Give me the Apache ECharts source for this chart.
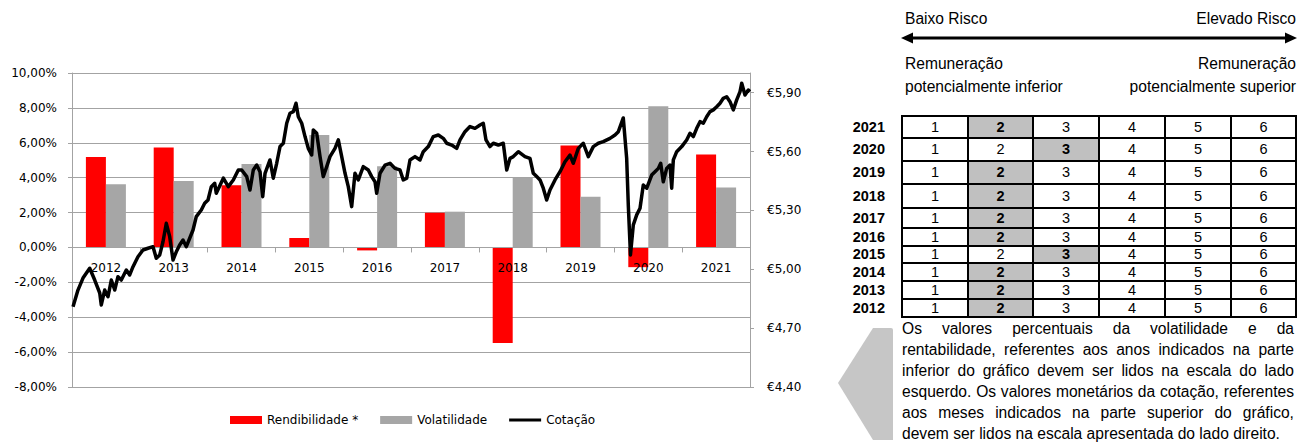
<!DOCTYPE html>
<html><head><meta charset="utf-8">
<script src="https://cdn.jsdelivr.net/npm/echarts@6/dist/echarts.min.js"></script>
<style>
html,body{margin:0;padding:0;background:#fff;width:1299px;height:442px;overflow:hidden;}
#chart{position:absolute;left:0;top:0;width:830px;height:442px;}
#panel{position:absolute;left:0;top:0;width:1299px;height:442px;font-family:'Liberation Sans',Arial,sans-serif;color:#000;pointer-events:none;}
.t{position:absolute;font-size:15.6px;line-height:18px;white-space:nowrap;}
.cell{position:absolute;box-sizing:border-box;border:2px solid #000;text-align:center;font-size:14.5px;}
.yr{position:absolute;font-weight:bold;font-size:14.5px;text-align:right;width:60px;}
.pl{position:absolute;left:902px;width:392px;font-size:15.6px;line-height:21px;height:21px;white-space:nowrap;display:flex;justify-content:space-between;}
.pl.last{display:block;}
</style></head>
<body>
<div id="chart"></div>
<div id="panel">
  <svg width="1299" height="442" style="position:absolute;left:0;top:0">
    <line x1="908" y1="38" x2="1290" y2="38" stroke="#000" stroke-width="3"/>
    <polygon points="901,38 913,32.5 913,43.5" fill="#000"/>
    <polygon points="1297,38 1285,32.5 1285,43.5" fill="#000"/>
    <path d="M893,330 Q893,328 891,328 L873,328 L838,383 L873,440 L893,440 Z" fill="#c6c6c6"/>
  </svg>
  <div class="t" style="left:905px;top:10px">Baixo Risco</div>
  <div class="t" style="right:3px;top:10px">Elevado Risco</div>
  <div class="t" style="left:905px;top:55px">Remuneração</div>
  <div class="t" style="left:905px;top:78px">potencialmente inferior</div>
  <div class="t" style="right:3px;top:55px">Remuneração</div>
  <div class="t" style="right:3px;top:78px">potencialmente superior</div>
  <div id="table"></div>
  <div id="para"></div>
</div>
<script>
// ---- Chart data ----
const years = ['2012','2013','2014','2015','2016','2017','2018','2019','2020','2021'];
const rendibilidade = [5.19, 5.73, 3.56, 0.54, -0.17, 1.99, -5.48, 5.84, -1.13, 5.33];
const volatilidade = [3.62, 3.81, 4.79, 6.44, 4.66, 2.05, 3.98, 2.91, 8.09, 3.43];
const priceTicks = [4.4, 4.7, 5.0, 5.3, 5.6, 5.9];
// Cotação: [decimal year, price in €]
const cotacao = [[2012.015,4.809],[2012.088,4.894],[2012.162,4.955],[2012.261,5.005],[2012.335,4.945],[2012.409,4.879],[2012.432,4.818],[2012.482,4.894],[2012.531,4.860],[2012.580,4.945],[2012.630,4.894],[2012.678,4.962],[2012.727,4.945],[2012.801,4.996],[2012.851,4.971],[2012.900,5.013],[2012.973,5.064],[2013.047,5.098],[2013.121,5.107],[2013.195,5.115],[2013.243,5.056],[2013.294,5.073],[2013.342,5.140],[2013.391,5.234],[2013.441,5.166],[2013.490,5.047],[2013.538,5.089],[2013.588,5.124],[2013.637,5.149],[2013.686,5.115],[2013.736,5.158],[2013.785,5.200],[2013.833,5.268],[2013.907,5.302],[2013.957,5.336],[2014.006,5.353],[2014.055,5.421],[2014.105,5.438],[2014.128,5.387],[2014.232,5.464],[2014.305,5.421],[2014.379,5.455],[2014.453,5.506],[2014.503,5.506],[2014.577,5.472],[2014.625,5.404],[2014.674,5.506],[2014.724,5.531],[2014.773,5.497],[2014.813,5.370],[2014.847,5.489],[2014.920,5.557],[2014.969,5.464],[2015.019,5.540],[2015.068,5.625],[2015.117,5.642],[2015.167,5.744],[2015.215,5.795],[2015.264,5.803],[2015.304,5.846],[2015.338,5.777],[2015.388,5.744],[2015.437,5.676],[2015.485,5.616],[2015.535,5.582],[2015.559,5.710],[2015.609,5.693],[2015.658,5.574],[2015.706,5.472],[2015.757,5.523],[2015.805,5.574],[2015.879,5.616],[2015.928,5.659],[2015.978,5.574],[2016.027,5.489],[2016.075,5.421],[2016.125,5.319],[2016.174,5.489],[2016.223,5.455],[2016.296,5.523],[2016.370,5.506],[2016.420,5.472],[2016.469,5.446],[2016.494,5.387],[2016.543,5.489],[2016.617,5.531],[2016.690,5.540],[2016.764,5.514],[2016.838,5.506],[2016.886,5.455],[2016.937,5.464],[2016.985,5.557],[2017.059,5.574],[2017.133,5.557],[2017.181,5.599],[2017.255,5.625],[2017.329,5.676],[2017.403,5.684],[2017.476,5.667],[2017.527,5.642],[2017.600,5.633],[2017.674,5.616],[2017.723,5.659],[2017.796,5.701],[2017.870,5.727],[2017.944,5.718],[2018.018,5.735],[2018.066,5.744],[2018.106,5.659],[2018.165,5.625],[2018.214,5.642],[2018.288,5.633],[2018.361,5.642],[2018.412,5.506],[2018.460,5.565],[2018.509,5.574],[2018.583,5.599],[2018.681,5.574],[2018.755,5.565],[2018.804,5.489],[2018.854,5.472],[2018.903,5.455],[2018.951,5.413],[2019.001,5.353],[2019.050,5.404],[2019.124,5.455],[2019.198,5.497],[2019.271,5.548],[2019.345,5.582],[2019.394,5.540],[2019.468,5.616],[2019.541,5.642],[2019.615,5.574],[2019.689,5.625],[2019.763,5.642],[2019.836,5.650],[2019.935,5.667],[2020.009,5.684],[2020.058,5.701],[2020.131,5.771],[2020.181,5.565],[2020.205,5.327],[2020.237,5.073],[2020.279,5.226],[2020.329,5.277],[2020.378,5.311],[2020.426,5.429],[2020.477,5.413],[2020.550,5.480],[2020.599,5.497],[2020.648,5.514],[2020.683,5.540],[2020.721,5.446],[2020.771,5.514],[2020.820,5.531],[2020.845,5.413],[2020.869,5.557],[2020.919,5.599],[2020.993,5.625],[2021.066,5.659],[2021.115,5.693],[2021.164,5.676],[2021.214,5.718],[2021.263,5.752],[2021.311,5.744],[2021.361,5.777],[2021.410,5.803],[2021.459,5.812],[2021.509,5.828],[2021.558,5.846],[2021.606,5.871],[2021.656,5.879],[2021.705,5.854],[2021.754,5.812],[2021.804,5.863],[2021.853,5.905],[2021.878,5.948],[2021.926,5.888],[2021.975,5.913],[2022.000,5.905]];

// ---- Risk table data ----
const riskYears = [2021,2020,2019,2018,2017,2016,2015,2014,2013,2012];
const riskClass = [2,3,2,2,2,2,3,2,2,2];
const riskScale = [1,2,3,4,5,6];
const paraLines = [
  'Os valores percentuais da volatilidade e da',
  'rentabilidade, referentes aos anos indicados na parte',
  'inferior do gráfico devem ser lidos na escala do lado',
  'esquerdo. Os valores monetários da cotação, referentes',
  'aos meses indicados na parte superior do gráfico,',
  'devem ser lidos na escala apresentada do lado direito.'
];

// ---- Layout (positions only) ----
const colX = [902, 968, 1033, 1099, 1165, 1231, 1296];
const rowY = [116, 138, 161, 184, 208, 228, 246, 263, 281, 299, 317];

const tbl = document.getElementById('table');
riskYears.forEach((yr, r) => {
  const y0 = rowY[r], y1 = rowY[r+1];
  const yl = document.createElement('div');
  yl.className = 'yr';
  yl.style.left = (885-60)+'px';
  yl.style.top = y0+'px';
  yl.style.height = (y1-y0)+'px';
  yl.style.lineHeight = (y1-y0)+'px';
  yl.textContent = yr;
  tbl.appendChild(yl);
  riskScale.forEach((v, c) => {
    const d = document.createElement('div');
    d.className = 'cell';
    const h = y1-y0+2;
    d.style.left = (colX[c]-1)+'px';
    d.style.top = (y0-1)+'px';
    d.style.width = (colX[c+1]-colX[c]+2)+'px';
    d.style.height = h+'px';
    d.style.lineHeight = (h-4)+'px';
    if (v === riskClass[r]) { d.style.background = '#c0c0c0'; d.style.fontWeight = 'bold'; }
    d.textContent = v;
    tbl.appendChild(d);
  });
});

const para = document.getElementById('para');
paraLines.forEach((ln, i) => {
  const d = document.createElement('div');
  d.className = 'pl' + (i === paraLines.length-1 ? ' last' : '');
  d.style.top = (318 + i*21)+'px';
  if (i === paraLines.length-1) { d.textContent = ln; }
  else { ln.split(' ').forEach(w => { const s = document.createElement('span'); s.textContent = w; d.appendChild(s); }); }
  para.appendChild(d);
});

// ---- Chart ----
const fmtPct = v => v.toFixed(2).replace('.', ',') + '%';
const fmtEur = v => '€' + v.toFixed(2).replace('.', ',');
const gridColor = '#a3a3a3';
const gridTop = 73, gridHeight = 314;
const chart = echarts.init(document.getElementById('chart'), null, {renderer: 'svg'});
chart.setOption({
  animation: false,
  textStyle: {fontFamily: 'DejaVu Sans'},
  grid: {left: 72, top: gridTop, width: 678, height: gridHeight},
  legend: {
    left: 230, top: 414, itemWidth: 32, itemHeight: 8, itemGap: 22, padding: 0,
    textStyle: {fontSize: 12, color: '#000', fontFamily: 'DejaVu Sans'},
    data: [
      {name: 'Rendibilidade *', icon: 'rect'},
      {name: 'Volatilidade', icon: 'rect'},
      {name: 'Cotação', icon: 'path://M0,0 H32 V3 H0 Z'}
    ]
  },
  xAxis: [
    {type: 'category', data: years, z: 3,
     axisLine: {onZero: false, lineStyle: {color: gridColor}},
     axisTick: {show: true, length: 5, lineStyle: {color: gridColor}},
     axisLabel: {margin: 15, color: '#000', fontSize: 12, fontFamily: 'DejaVu Sans'}},
    {type: 'value', min: 2012, max: 2022, show: false}
  ],
  yAxis: [
    {type: 'value', min: -8, max: 10, interval: 2, position: 'left',
     axisLine: {show: true, onZero: false, lineStyle: {color: gridColor}},
     axisTick: {show: true, length: 4, lineStyle: {color: gridColor}},
     splitLine: {show: true, lineStyle: {color: gridColor, width: 1}},
     axisLabel: {margin: 15, color: '#000', fontSize: 12, fontFamily: 'DejaVu Sans', formatter: fmtPct}},
    {type: 'value', min: 4.4, max: 6.0, position: 'right',
     axisLine: {show: true, onZero: false, lineStyle: {color: gridColor}},
     axisTick: {show: true, length: 4, customValues: priceTicks, lineStyle: {color: gridColor}},
     splitLine: {show: false},
     axisLabel: {margin: 17, color: '#000', fontSize: 12, fontFamily: 'DejaVu Sans', customValues: priceTicks, formatter: fmtEur}}
  ],
  series: [
    {name: 'Rendibilidade *', type: 'bar', data: rendibilidade, barWidth: 20, barGap: '0%',
     itemStyle: {color: '#ff0000'}, xAxisIndex: 0, yAxisIndex: 0},
    {name: 'Volatilidade', type: 'bar', data: volatilidade, barWidth: 20, barGap: '0%',
     itemStyle: {color: '#a6a6a6'}, xAxisIndex: 0, yAxisIndex: 0},
    {name: 'Cotação', type: 'line', data: cotacao, xAxisIndex: 1, yAxisIndex: 1,
     symbol: 'none', showSymbol: false, z: 5,
     lineStyle: {color: '#000', width: 3.5, join: 'round'}, itemStyle: {color: '#000'}}
  ]
});
// Place the category axis on the 0% line of the left scale
const zeroY = chart.convertToPixel({yAxisIndex: 0}, 0);
chart.setOption({xAxis: [{offset: zeroY - (gridTop + gridHeight)}]});
</script>
</body></html>
